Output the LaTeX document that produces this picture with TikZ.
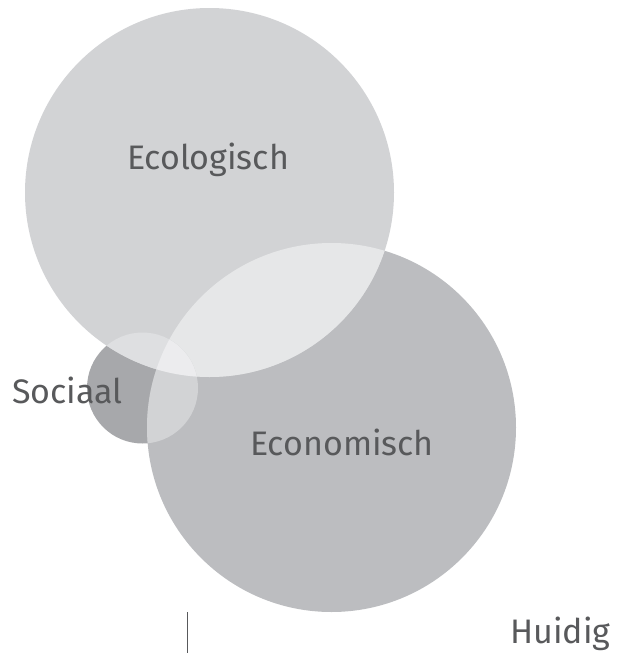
\documentclass[tikz,border=0pt]{standalone}
\usepackage{fontspec}
\setmainfont{Fira Sans}
\usetikzlibrary{positioning}
\definecolor{ecogray}{HTML}{D2D3D5}
\definecolor{econgray}{HTML}{BCBDC0}
\definecolor{socgray}{HTML}{A7A8AB}
\definecolor{ecoecon}{HTML}{E6E7E8}
\definecolor{socoeco}{HTML}{DEDFE1}
\definecolor{socecon}{HTML}{D2D3D5}
\definecolor{allthree}{HTML}{ECECEE}
\definecolor{textgray}{HTML}{58595B}
\tikzset{
  bol/.style={
    circle,
    inner sep=0pt,
    draw=none},
  groot/.style={bol, minimum size=369pt},
  klein/.style={bol, minimum size=111pt},
  etiket/.style={
    text=textgray,
    font=\fontsize{34}{40}\selectfont,
    anchor=base,
    inner sep=0pt},
}

\begin{document}
\begin{tikzpicture}
  [x=1pt, y=-1pt]
    \useasboundingbox (0,0) rectangle (622,653);

    % de drie cirkels
    \node[klein, fill=socgray] (soc) at (142.5,388) {};
    \node[groot, fill=econgray] (econ) at (331.5,427.5) {};
    \node[groot, fill=ecogray] (eco) at (209.5,192.5) {};

    % overlappingen
    \begin{scope}
      \clip (eco.center) circle (184.5pt);
      \fill[ecoecon] (econ.center) circle (184.5pt);
    \end{scope}
    \begin{scope}
      \clip (soc.center) circle (55.5pt);
      \fill[socecon] (econ.center) circle (184.5pt);
      \fill[socoeco] (eco.center) circle (184.5pt);
      \clip (eco.center) circle (184.5pt);
      \fill[allthree] (econ.center) circle (184.5pt);
    \end{scope}

    % teksten
    \node[etiket] (eco-tekst) at (208,169) {Ecologisch};
    \node[etiket] (econ-tekst) at (342,455) {Economisch};
    \node[etiket] (soc-tekst) at (67.5,403) {Sociaal};
    \node[etiket] (huidig) at (560.5,643) {Huidig};

    \coordinate (streep-boven) at (187.5,612);
    \coordinate (streep-onder) at (187.5,653);
    \draw[textgray, line width=1.5pt] (streep-boven) -- (streep-onder);

  \end{tikzpicture}
\end{document}
